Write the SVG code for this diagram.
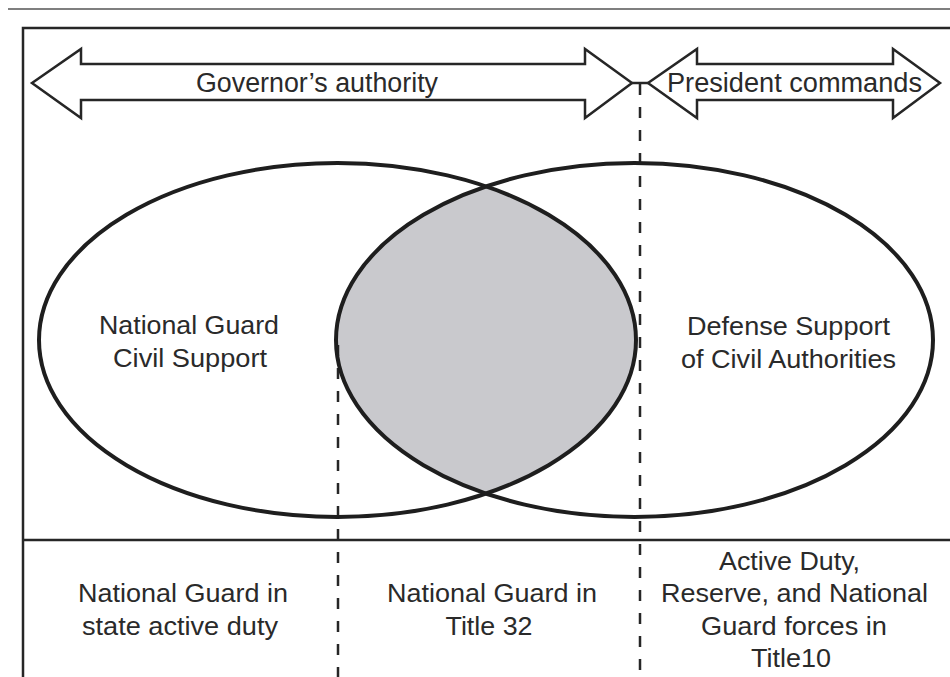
<svg xmlns="http://www.w3.org/2000/svg" width="950" height="677" viewBox="0 0 950 677">
<style>
  .txt { font-family: "Liberation Sans", Arial, sans-serif; fill: #2a2a2a; text-anchor: middle; }
  .big { font-size: 27px; }
  .lbl { font-size: 25px; }
  .frame { fill: none; stroke: #262626; stroke-width: 2.5; }
  .arrow { fill: #ffffff; stroke: #262626; stroke-width: 2.5; stroke-linejoin: miter; }
  .ell { fill: none; stroke: #1e1e1e; stroke-width: 4; }
  .dash { fill: none; stroke: #262626; stroke-width: 2.5; stroke-dasharray: 11 12; }
</style>
<defs>
  <clipPath id="clipLeft">
    <ellipse cx="337.5" cy="340" rx="298.5" ry="177"/>
  </clipPath>
</defs>
<rect x="0" y="0" width="950" height="677" fill="#ffffff"/>
<line x1="8" y1="9" x2="950" y2="9" stroke="#555555" stroke-width="1.5"/>
<g id="frame">
  <path class="frame" d="M 960 28 H 23 V 690"/>
  <line class="frame" x1="23" y1="540" x2="960" y2="540"/>
</g>
<g id="governor-arrow">
  <path class="arrow" d="M 32 83 L 81 49 L 81 64 L 585 64 L 585 49 L 632 83 L 585 118 L 585 100 L 81 100 L 81 118 Z"/>
  <text class="txt big" x="317" y="92" textLength="242" lengthAdjust="spacingAndGlyphs">Governor’s authority</text>
</g>
<g id="president-arrow">
  <path class="arrow" d="M 648 83 L 697 49 L 697 64 L 893 64 L 893 49 L 940 83 L 893 118 L 893 100 L 697 100 L 697 118 Z"/>
  <text class="txt big" x="794.5" y="92" textLength="255" lengthAdjust="spacingAndGlyphs">President commands</text>
</g>
<g id="overlap">
  <ellipse cx="634.5" cy="340" rx="298.5" ry="177" fill="#c9c9cd" clip-path="url(#clipLeft)"/>
</g>
<g id="connectors">
  <line x1="632" y1="83" x2="648" y2="83" stroke="#262626" stroke-width="2.5"/>
  <line class="dash" x1="640" y1="84" x2="640" y2="680"/>
  <line class="dash" x1="338" y1="345" x2="338" y2="680"/>
</g>
<g id="ng-civil-support">
  <ellipse class="ell" cx="337.5" cy="340" rx="298.5" ry="177"/>
  <text class="txt lbl" x="189" y="334" textLength="180" lengthAdjust="spacingAndGlyphs">National Guard</text>
  <text class="txt lbl" x="190" y="367" textLength="154" lengthAdjust="spacingAndGlyphs">Civil Support</text>
</g>
<g id="dsca">
  <ellipse class="ell" cx="634.5" cy="340" rx="298.5" ry="177"/>
  <text class="txt lbl" x="788.5" y="335" textLength="203" lengthAdjust="spacingAndGlyphs">Defense Support</text>
  <text class="txt lbl" x="788.5" y="368" textLength="215" lengthAdjust="spacingAndGlyphs">of Civil Authorities</text>
</g>
<g id="state-active-duty">
  <text class="txt lbl" x="183" y="602" textLength="210" lengthAdjust="spacingAndGlyphs">National Guard in</text>
  <text class="txt lbl" x="180" y="635" textLength="196" lengthAdjust="spacingAndGlyphs">state active duty</text>
</g>
<g id="title-32">
  <text class="txt lbl" x="492" y="602" textLength="210" lengthAdjust="spacingAndGlyphs">National Guard in</text>
  <text class="txt lbl" x="489" y="635" textLength="87" lengthAdjust="spacingAndGlyphs">Title 32</text>
</g>
<g id="title-10">
  <text class="txt lbl" x="789.5" y="570" textLength="141" lengthAdjust="spacingAndGlyphs">Active Duty,</text>
  <text class="txt lbl" x="794.5" y="602" textLength="267" lengthAdjust="spacingAndGlyphs">Reserve, and National</text>
  <text class="txt lbl" x="794" y="635" textLength="186" lengthAdjust="spacingAndGlyphs">Guard forces in</text>
  <text class="txt lbl" x="791" y="667" textLength="80" lengthAdjust="spacingAndGlyphs">Title10</text>
</g>
</svg>
